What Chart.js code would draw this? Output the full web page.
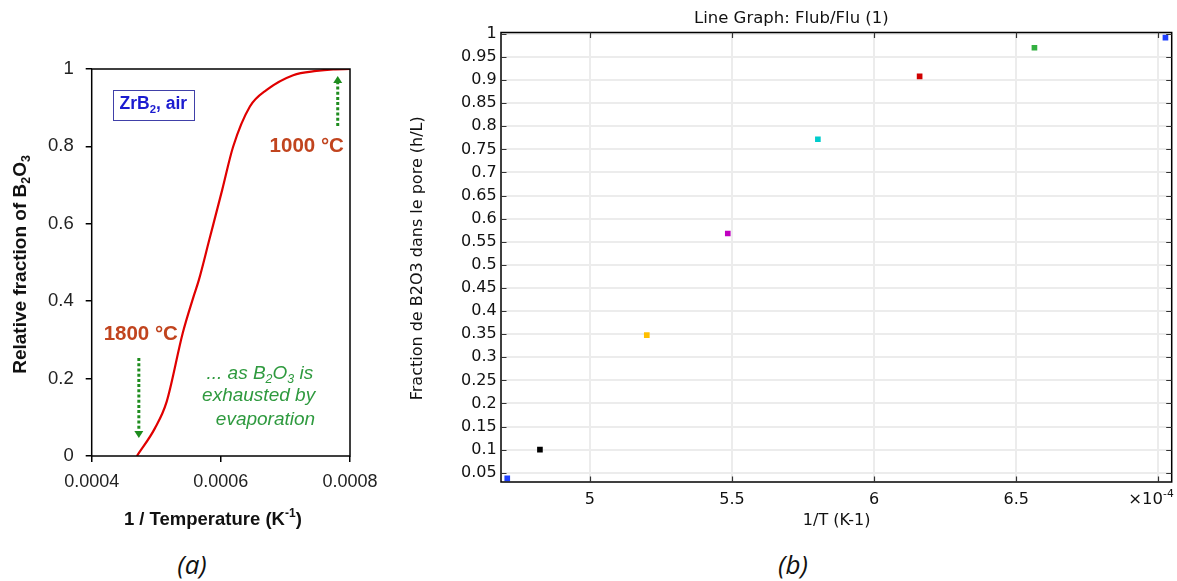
<!DOCTYPE html>
<html><head><meta charset="utf-8">
<script src="https://cdn.jsdelivr.net/npm/chart.js@4.4.1/dist/chart.umd.min.js"></script>
<style>
html,body{margin:0;padding:0;background:#fff;width:1177px;height:581px;overflow:hidden;}
#ca{position:absolute;left:0;top:0;}
#cb{position:absolute;left:390px;top:0;}
.lab{position:absolute;top:546px;font-family:'Open Sans',sans-serif;font-style:italic;font-size:26px;line-height:36px;color:#111;transform:translateX(-50%);}
</style></head><body>
<canvas id="ca" width="380" height="540"></canvas>
<canvas id="cb" width="787" height="540"></canvas>
<div class="lab" style="left:192px">(a)</div>
<div class="lab" style="left:793px">(b)</div>
<script>
// ---------- Panel (a) data ----------
const xA = [0.000470, 0.000498, 0.000516, 0.000541, 0.000557, 0.000566, 0.000582, 0.000602, 0.000619, 0.000645, 0.000671, 0.000712, 0.000748, 0.000774, 0.000800];
const yA = [0.000, 0.072, 0.140, 0.318, 0.408, 0.455, 0.558, 0.687, 0.799, 0.903, 0.946, 0.984, 0.995, 0.999, 1.000];
const xTicksA = [0.0004, 0.0006, 0.0008];
const xLabelsA = ['0.0004', '0.0006', '0.0008'];
const yTicksA = [0, 0.2, 0.4, 0.6, 0.8, 1];
const yLabelsA = ['0', '0.2', '0.4', '0.6', '0.8', '1'];

// ---------- Panel (b) data ----------
const xB = [4.709, 4.824, 5.200, 5.485, 5.802, 6.160, 6.564, 7.025];
const yB = [0.038, 0.100, 0.348, 0.568, 0.772, 0.908, 0.970, 0.992];
const colorsB = ['#1f40ff', '#000000', '#ffbf00', '#c000c0', '#00cccc', '#d00000', '#33b040', '#1f40ff'];
const xTicksB = [5, 5.5, 6, 6.5, 7];
const xLabelsB = ['5', '5.5', '6', '6.5', ''];
const yTicksB = [0.05, 0.1, 0.15, 0.2, 0.25, 0.3, 0.35, 0.4, 0.45, 0.5, 0.55, 0.6, 0.65, 0.7, 0.75, 0.8, 0.85, 0.9, 0.95, 1];
const yLabelsB = ['0.05', '0.1', '0.15', '0.2', '0.25', '0.3', '0.35', '0.4', '0.45', '0.5', '0.55', '0.6', '0.65', '0.7', '0.75', '0.8', '0.85', '0.9', '0.95', '1'];

// ---------- helpers ----------
function rich(ctx, parts, x, y, size, weight, style, family, color, align) {
  const f = m => `${style} ${weight} ${m ? size * 0.65 : size}px ${family}`;
  let w = 0;
  parts.forEach(([t, m]) => { ctx.font = f(m); w += ctx.measureText(t).width; });
  let cx = align === 'center' ? x - w / 2 : align === 'right' ? x - w : x;
  ctx.fillStyle = color; ctx.textBaseline = 'alphabetic'; ctx.textAlign = 'left';
  parts.forEach(([t, m]) => {
    ctx.font = f(m);
    const dy = m === 1 ? size * 0.22 : m === -1 ? -size * 0.42 : 0;
    ctx.fillText(t, cx, y + dy);
    cx += ctx.measureText(t).width;
  });
  return w;
}
function arrow(ctx, x, y0, y1, color) {
  const dir = Math.sign(y1 - y0), hl = 7, hw = 4.5;
  ctx.save();
  ctx.strokeStyle = color; ctx.lineWidth = 3; ctx.setLineDash([3, 2.2]);
  ctx.beginPath(); ctx.moveTo(x, y0); ctx.lineTo(x, y1 - dir * hl); ctx.stroke();
  ctx.setLineDash([]); ctx.fillStyle = color;
  ctx.beginPath(); ctx.moveTo(x, y1); ctx.lineTo(x - hw, y1 - dir * hl); ctx.lineTo(x + hw, y1 - dir * hl); ctx.closePath(); ctx.fill();
  ctx.restore();
}
const ARIAL = '"Liberation Sans", Arial, sans-serif';
const DJV = '"DejaVu Sans", sans-serif';
const noPad = s => { s.paddingLeft = 0; s.paddingRight = 0; s.paddingTop = 0; s.paddingBottom = 0; };

// ---------- Panel (a) ----------
const annoA = {
  id: 'annoA',
  afterDraw(chart) {
    const { ctx, chartArea: a, scales: { x, y } } = chart;
    const px = v => x.getPixelForValue(v), py = v => y.getPixelForValue(v);
    ctx.save();
    ctx.strokeStyle = '#000'; ctx.lineWidth = 1.5;
    ctx.strokeRect(a.left, a.top, a.right - a.left, a.bottom - a.top);
    // axis titles
    ctx.save();
    ctx.translate(a.left - 66, (a.top + a.bottom) / 2 + 2);
    ctx.rotate(-Math.PI / 2);
    rich(ctx, [['Relative fraction of B', 0], ['2', 1], ['O', 0], ['3', 1]], 0, 0, 19, 'bold', 'normal', ARIAL, '#111', 'center');
    ctx.restore();
    rich(ctx, [['1 / Temperature (K', 0], ['-1', -1], [')', 0]], (a.left + a.right) / 2 - 8, a.bottom + 68.5, 18.5, 'bold', 'normal', ARIAL, '#111', 'center');
    // ZrB2, air box
    const bx0 = px(0.000433), bx1 = px(0.000558), by0 = py(0.946), by1 = py(0.868);
    ctx.strokeStyle = '#4040a8'; ctx.lineWidth = 1;
    ctx.strokeRect(Math.round(bx0) + 0.5, Math.round(by0) + 0.5, Math.round(bx1 - bx0), Math.round(by1 - by0));
    rich(ctx, [['ZrB', 0], ['2', 1], [', air', 0]], (bx0 + bx1) / 2, py(0.9) + 1, 17.5, 'bold', 'normal', ARIAL, '#1c1cd0', 'center');
    // temperature labels
    rich(ctx, [['1000 °C', 0]], px(0.000733), py(0.786), 20.5, 'bold', 'normal', ARIAL, '#c1441e', 'center');
    rich(ctx, [['1800 °C', 0]], px(0.000476), py(0.30), 20.5, 'bold', 'normal', ARIAL, '#c1441e', 'center');
    // arrows
    arrow(ctx, px(0.000781), py(0.853), py(0.982), '#1e8c1e');
    arrow(ctx, px(0.000473), py(0.253), py(0.0465), '#1e8c1e');
    // green text
    const gx = px(0.000746), gc = '#2f9a3f';
    rich(ctx, [['... as B', 0], ['2', 1], ['O', 0], ['3', 1], [' is', 0]], gx - 2, py(0.20), 19, 'normal', 'italic', ARIAL, gc, 'right');
    rich(ctx, [['exhausted by', 0]], gx, py(0.142), 19, 'normal', 'italic', ARIAL, gc, 'right');
    rich(ctx, [['evaporation', 0]], gx, py(0.080), 19, 'normal', 'italic', ARIAL, gc, 'right');
    ctx.restore();
  }
};

new Chart(document.getElementById('ca'), {
  type: 'line',
  data: { datasets: [{ data: xA.map((v, i) => ({ x: v, y: yA[i] })), borderColor: '#e00000', borderWidth: 2.2, pointRadius: 0, tension: 0.25, cubicInterpolationMode: 'monotone', fill: false }] },
  options: {
    responsive: false, animation: false, devicePixelRatio: 1,
    layout: { padding: { top: 69, right: 30, left: 0, bottom: 0 } },
    plugins: { legend: { display: false }, tooltip: { enabled: false }, title: { display: false } },
    scales: {
      x: {
        type: 'linear', min: 0.0004, max: 0.0008,
        afterBuildTicks: s => { s.ticks = xTicksA.map(v => ({ value: v })); },
        afterFit: s => { s.height = 84; noPad(s); },
        grid: { drawOnChartArea: false, drawTicks: true, tickLength: 6, color: '#000', lineWidth: 1.5 },
        border: { display: false },
        ticks: { callback: (v, i) => xLabelsA[i], font: { family: ARIAL, size: 18 }, color: '#222', padding: 9, maxRotation: 0 }
      },
      y: {
        type: 'linear', min: 0, max: 1,
        afterBuildTicks: s => { s.ticks = yTicksA.map(v => ({ value: v })); },
        afterFit: s => { s.width = 91.7; noPad(s); },
        grid: { drawOnChartArea: false, drawTicks: true, tickLength: 6, color: '#000', lineWidth: 1.5 },
        border: { display: false },
        ticks: { callback: (v, i) => yLabelsA[i], font: { family: ARIAL, size: 18.5 }, color: '#222', padding: 12 }
      }
    }
  },
  plugins: [annoA]
});

// ---------- Panel (b) ----------
const annoB = {
  id: 'annoB',
  afterDraw(chart) {
    const { ctx, chartArea: a, scales: { x, y } } = chart;
    ctx.save();
    ctx.strokeStyle = '#000'; ctx.lineWidth = 1.5;
    ctx.strokeRect(a.left, a.top, a.right - a.left, a.bottom - a.top);
    ctx.strokeStyle = '#333'; ctx.lineWidth = 1.2;
    ctx.beginPath();
    yTicksB.forEach(v => {
      const p = Math.round(y.getPixelForValue(v)) + 0.5;
      ctx.moveTo(a.left, p); ctx.lineTo(a.left + 5.5, p);
      ctx.moveTo(a.right - 5.5, p); ctx.lineTo(a.right, p);
    });
    xTicksB.forEach(v => {
      const p = Math.round(x.getPixelForValue(v)) + 0.5;
      ctx.moveTo(p, a.bottom); ctx.lineTo(p, a.bottom - 5.5);
      ctx.moveTo(p, a.top); ctx.lineTo(p, a.top + 5.5);
    });
    ctx.stroke();
    // title
    rich(ctx, [['Line Graph: Flub/Flu (1)', 0]], (a.left + a.right) / 2 - 45, 22.5, 16.5, 'normal', 'normal', DJV, '#111', 'center');
    // y title
    ctx.save();
    ctx.translate(a.left - 79, (a.top + a.bottom) / 2 + 1);
    ctx.rotate(-Math.PI / 2);
    rich(ctx, [['Fraction de B2O3 dans le pore (h/L)', 0]], 0, 0, 16, 'normal', 'normal', DJV, '#111', 'center');
    ctx.restore();
    // x title
    rich(ctx, [['1/T (K-1)', 0]], x.getPixelForValue(6) - 37.5, a.bottom + 43, 16, 'normal', 'normal', DJV, '#111', 'center');
    // multiplier
    rich(ctx, [['×10', 0], ['-4', -1]], a.right + 2, a.bottom + 21.5, 16.5, 'normal', 'normal', DJV, '#111', 'right');
    ctx.restore();
  }
};

new Chart(document.getElementById('cb'), {
  type: 'scatter',
  data: { datasets: [{ data: xB.map((v, i) => ({ x: v, y: yB[i] })), pointBackgroundColor: colorsB, pointBorderWidth: 0, pointStyle: 'rect', pointRadius: 4, showLine: false }] },
  options: {
    responsive: false, animation: false, devicePixelRatio: 1,
    layout: { padding: { top: 32.5, right: 5.3, left: 0, bottom: 0 } },
    plugins: { legend: { display: false }, tooltip: { enabled: false }, title: { display: false } },
    scales: {
      x: {
        type: 'linear', min: 4.687, max: 7.047,
        afterBuildTicks: s => { s.ticks = xTicksB.map(v => ({ value: v })); },
        afterFit: s => { s.height = 58; noPad(s); },
        grid: { drawOnChartArea: true, drawTicks: false, color: '#ececec', lineWidth: 2 },
        border: { display: false },
        ticks: { callback: (v, i) => xLabelsB[i], font: { family: DJV, size: 16 }, color: '#111', padding: 8.4, maxRotation: 0 }
      },
      y: {
        type: 'linear', min: 0.03, max: 1.003,
        afterBuildTicks: s => { s.ticks = yTicksB.map(v => ({ value: v })); },
        afterFit: s => { s.width = 111; noPad(s); },
        grid: { drawOnChartArea: true, drawTicks: false, color: '#ececec', lineWidth: 2 },
        border: { display: false },
        ticks: { callback: (v, i) => yLabelsB[i], font: { family: DJV, size: 16 }, color: '#111', padding: 4.3 }
      }
    }
  },
  plugins: [annoB]
});
</script>
</body></html>
